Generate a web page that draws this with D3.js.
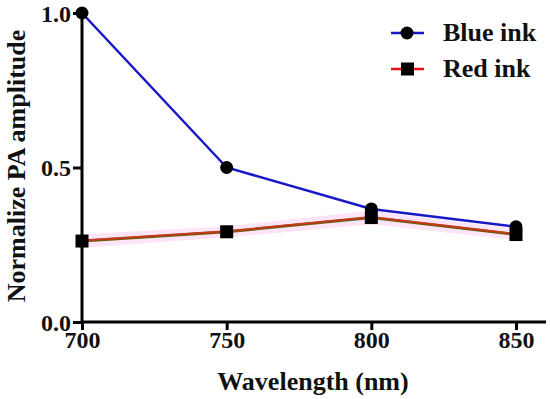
<!DOCTYPE html>
<html>
<head>
<meta charset="utf-8">
<script src="https://cdn.jsdelivr.net/npm/d3@7"></script>
<style>
  body { margin: 0; background: #fff; }
</style>
</head>
<body>
<svg id="chart" width="550" height="399"></svg>
<script>
const wavelengths = [700, 750, 800, 850];
const blueInk = [1.0, 0.5, 0.366, 0.308];
const redInk = [0.262, 0.292, 0.338, 0.283];
const redBand = [0.022, 0.018, 0.022, 0.018];
const xTicks = [700, 750, 800, 850];
const yTicks = [0.0, 0.5, 1.0];

const FONT = "Liberation Serif";
const svg = d3.select("#chart");

const x = d3.scaleLinear().domain([700, 850]).range([82, 516]);
const y = d3.scaleLinear().domain([0, 1]).range([322, 13]);

// pink band around red line
const band = d3.area()
  .x((d, i) => x(wavelengths[i]))
  .y0((d, i) => y(d - redBand[i]))
  .y1((d, i) => y(d + redBand[i]));
svg.append("path")
   .datum(redInk)
   .attr("d", band)
   .attr("fill", "#fde4f6");

// axes
const xAxis = svg.append("g")
  .attr("transform", "translate(0,322)")
  .call(d3.axisBottom(x).tickValues(xTicks).tickSize(8).tickFormat(d3.format("d")));
xAxis.select(".domain").attr("d", "M82,0H546");

const yAxis = svg.append("g")
  .attr("transform", "translate(82,0)")
  .call(d3.axisLeft(y).tickValues(yTicks).tickSize(9).tickFormat(d3.format(".1f")));
yAxis.select(".domain").attr("d", "M0,13V322");

svg.selectAll(".domain, .tick line").attr("stroke", "#000").attr("stroke-width", 3);
svg.selectAll(".tick text")
   .attr("font-family", FONT).attr("font-weight", "bold")
   .attr("font-size", 24).attr("fill", "#111");
xAxis.selectAll(".tick text").attr("y", 26).attr("dy", 0);
yAxis.selectAll(".tick text").attr("x", -11).attr("dy", "0.34em");

// lines
const line = d3.line().x((d, i) => x(wavelengths[i])).y(d => y(d));

svg.append("path").datum(redInk).attr("d", line)
   .attr("fill", "none").attr("stroke", "#6e5a10").attr("stroke-width", 3);
svg.append("path").datum(redInk).attr("d", line)
   .attr("fill", "none").attr("stroke", "#d8321c").attr("stroke-width", 1.5)
   .attr("transform", "translate(0,-0.5)");
svg.append("path").datum(blueInk).attr("d", line)
   .attr("fill", "none").attr("stroke", "#1818c8").attr("stroke-width", 2.5);

// markers
svg.selectAll(".sq").data(redInk).enter().append("rect")
   .attr("x", (d, i) => x(wavelengths[i]) - 6.5)
   .attr("y", d => y(d) - 6.5)
   .attr("width", 13).attr("height", 13)
   .attr("fill", "#000");
svg.selectAll(".dot").data(blueInk).enter().append("circle")
   .attr("cx", (d, i) => x(wavelengths[i]))
   .attr("cy", d => y(d))
   .attr("r", 6.5)
   .attr("fill", "#000");

// axis titles
svg.append("text")
   .attr("x", 313).attr("y", 390)
   .attr("text-anchor", "middle")
   .attr("font-family", FONT).attr("font-weight", "bold")
   .attr("font-size", 26)
   .attr("fill", "#111")
   .text("Wavelength (nm)");

svg.append("text")
   .attr("transform", "translate(25,166) rotate(-90)")
   .attr("text-anchor", "middle")
   .attr("font-family", FONT).attr("font-weight", "bold")
   .attr("font-size", 26)
   .attr("fill", "#111")
   .text("Normalize PA amplitude");

// legend
const legend = [
  { label: "Blue ink", color: "#1818c8", shape: "circle", y: 33 },
  { label: "Red ink", color: "#ee1010", shape: "square", y: 69 }
];
legend.forEach(l => {
  svg.append("line").attr("x1", 391).attr("x2", 424)
     .attr("y1", l.y).attr("y2", l.y)
     .attr("stroke", l.color).attr("stroke-width", 2.5);
  if (l.shape === "circle") {
    svg.append("circle").attr("cx", 407).attr("cy", l.y).attr("r", 6.5).attr("fill", "#000");
  } else {
    svg.append("rect").attr("x", 401).attr("y", l.y - 6.5).attr("width", 13).attr("height", 13).attr("fill", "#000");
  }
  svg.append("text").attr("x", 443).attr("y", l.y + 8)
     .attr("font-family", FONT).attr("font-weight", "bold")
     .attr("font-size", 26).attr("fill", "#111").text(l.label);
});
</script>
</body>
</html>
